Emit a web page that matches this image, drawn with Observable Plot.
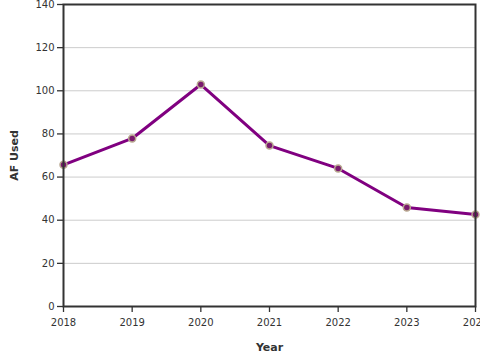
<!DOCTYPE html>
<html>
<head>
<meta charset="utf-8">
<script src="https://cdn.jsdelivr.net/npm/d3@7"></script>
<script src="https://cdn.jsdelivr.net/npm/@observablehq/plot@0.6"></script>
<style>
body { margin: 0; background: #fff; }
#chart svg { display: block; }
</style>
</head>
<body>
<div id="chart"></div>
<script>
const years = [2018, 2019, 2020, 2021, 2022, 2023, 2024];
const afUsed = [65.7, 77.9, 102.9, 74.6, 64.0, 45.9, 42.6];
const yTicks = [0, 20, 40, 60, 80, 100, 120, 140];

const data = years.map((y, i) => ({year: y, value: afUsed[i]}));

const chart = Plot.plot({
  width: 480,
  height: 360,
  marginLeft: 63,
  marginRight: 5,
  marginTop: 4,
  marginBottom: 54,
  style: {fontFamily: "DejaVu Sans", fontSize: "10px", color: "#333", background: "#fff"},
  x: {domain: [2018, 2024]},
  y: {domain: [0, 140]},
  marks: [
    Plot.gridY(yTicks, {stroke: "#ccc", strokeOpacity: 1, strokeWidth: 1}),
    Plot.line(data, {x: "year", y: "value", stroke: "#800080", strokeWidth: 3}),
    Plot.dot(data, {x: "year", y: "value", r: 3.5, fill: "#7a1a6e", stroke: "#b8a890", strokeWidth: 1.5}),
    Plot.frame({stroke: "#333", strokeWidth: 2}),
    Plot.axisX({ticks: years, tickFormat: d => String(d), tickSize: 6, tickPadding: 6, stroke: "#333",
      label: "Year", labelAnchor: "center", labelArrow: "none", labelOffset: 44}),
    Plot.axisY({ticks: yTicks, tickSize: 6, tickPadding: 3, stroke: "#333",
      label: "AF Used", labelAnchor: "center", labelArrow: "none", labelOffset: 53})
  ]
});

d3.select(chart).selectAll('[aria-label="x-axis label"] text, [aria-label="y-axis label"] text')
  .style("font-weight", "bold").style("font-size", "11px");
d3.select(chart).selectAll('[aria-label="x-axis tick"] path, [aria-label="y-axis tick"] path')
  .attr("stroke-width", 1.3);
document.getElementById("chart").appendChild(chart);
</script>
</body>
</html>
